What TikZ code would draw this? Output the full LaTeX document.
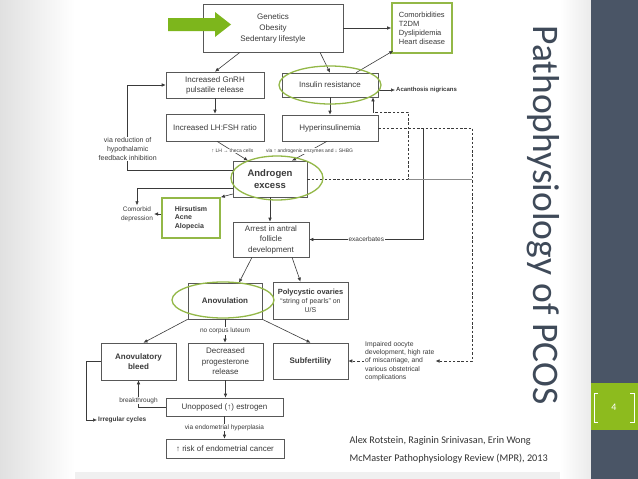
\documentclass[tikz,border=0pt]{standalone}
\usepackage{fontspec}
\setmainfont{Liberation Sans}
\newfontfamily\slidefont{Carlito}
\usetikzlibrary{arrows.meta,calc}
\definecolor{ink}{HTML}{3A3A3A}
\definecolor{lime}{HTML}{7DB61C}
\definecolor{olive}{HTML}{93B847}
\definecolor{slate}{HTML}{4A5566}
\definecolor{band}{HTML}{8DBB1E}
\definecolor{titlegray}{HTML}{3F4A59}
\tikzset{box/.style={draw=ink!85,fill=white,line width=.6pt,align=center,inner sep=0pt,text=ink,font=\fontsize{8}{10.5}\selectfont}, hot/.style={box,font=\fontsize{8}{10}\selectfont\bfseries}, gbox/.style={box,draw=olive,line width=1.6pt,align=left}, flow/.style={-{Latex[length=4pt,width=3.6pt]},draw=ink,line width=.6pt}, dflow/.style={flow,dash pattern=on 2.5pt off 1.8pt}, lbl/.style={fill=white,inner sep=.6pt,text=ink,align=center,font=\fontsize{6.5}{8}\selectfont}, tiny/.style={lbl,font=\fontsize{5}{6}\selectfont}, ring/.style={draw=olive,line width=1.3pt}}

\begin{document}
\begin{tikzpicture}[x=1pt,y=-1pt]
\useasboundingbox (0,0) rectangle (638,479);
\fill[white] (0,0) rectangle (638,479);
\shade[left color=black!12,right color=white] (0,0) rectangle (75,479);
\shade[left color=white,right color=black!8] (560,0) rectangle (591,479);
\fill[black!6] (75,472) rectangle (560,479);
\fill[slate] (591,0) rectangle (638,479);
\fill[band] (591,383) rectangle (638,430);
\draw[white,line width=.7pt] (598,393) -- (594,393) -- (594,422) -- (598,422);
\draw[white,line width=.7pt] (630,393) -- (634,393) -- (634,422) -- (630,422);
\node[font=\slidefont\fontsize{10}{12}\selectfont,text=white] (pg) at (614,407) {4};
\node[font=\slidefont\fontsize{37.5}{40}\selectfont,text=titlegray,rotate=-90] (title) at (543,215) {Pathophysiology of PCOS};
\node[font=\slidefont\fontsize{10.2}{18}\selectfont,text=black!80,align=left,anchor=west] (cite) at (346,450) {Alex Rotstein, Raginin Srinivasan, Erin Wong\\McMaster Pathophysiology Review (MPR), 2013};

\node[box,minimum width=140,minimum height=48,font=\fontsize{8}{11}\selectfont] (gen) at (273,28) {Genetics\\Obesity\\Sedentary lifestyle};
\node[gbox,minimum width=60,minimum height=50,font=\fontsize{7.5}{9}\selectfont] (comorb) at (422,28) {Comorbidities\\T2DM\\Dyslipidemia\\Heart disease};
\node[box,minimum width=98,minimum height=26,font=\fontsize{8}{10}\selectfont] (gnrh) at (215,85) {Increased GnRH\\pulsatile release};
\node[box,minimum width=96,minimum height=24] (ins) at (330,85) {Insulin resistance};
\node[font=\fontsize{6}{7}\selectfont\bfseries,text=ink,anchor=west,inner sep=1pt] (acan) at (395,90) {Acanthosis nigricans};
\node[box,minimum width=98,minimum height=27] (lh) at (215,127.5) {Increased LH:FSH ratio};
\node[box,minimum width=96,minimum height=26] (hyp) at (330,128) {Hyperinsulinemia};
\node[box,minimum width=74,minimum height=36,font=\fontsize{9.5}{12}\selectfont\bfseries] (andr) at (270,179) {Androgen\\excess};
\node[gbox,minimum width=58,minimum height=40,font=\fontsize{7}{8.5}\selectfont\bfseries] (hirs) at (191,218) {Hirsutism\\Acne\\Alopecia};
\node[font=\fontsize{6.5}{9}\selectfont,text=ink,align=center,inner sep=1pt] (depr) at (137,214) {Comorbid\\depression};
\node[box,minimum width=76,minimum height=35] (arrest) at (271,239.5) {Arrest in antral\\follicle\\development};
\node[hot,minimum width=74,minimum height=36] (anov) at (225,301) {Anovulation};
\node[box,minimum width=75,minimum height=37,font=\fontsize{7}{9}\selectfont] (poly) at (310.5,300.5) {{\bfseries\fontsize{7.5}{9}\selectfont Polycystic ovaries}\\“string of pearls” on\\U/S};
\node[hot,minimum width=75,minimum height=37] (bleed) at (138.5,361.5) {Anovulatory\\bleed};
\node[box,minimum width=75,minimum height=37] (prog) at (225.5,361.5) {Decreased\\progesterone\\release};
\node[hot,minimum width=75,minimum height=36] (subf) at (310.5,361) {Subfertility};
\node[font=\fontsize{6.8}{8.3}\selectfont,text=ink,align=left,anchor=west,inner sep=1pt] (imp) at (364,361) {Impaired oocyte\\development, high rate\\of miscarriage, and\\various obstetrical\\complications};
\node[box,minimum width=117,minimum height=18] (unop) at (224.5,407) {Unopposed (↑) estrogen};
\node[font=\fontsize{6.5}{8}\selectfont\bfseries,text=ink,anchor=west,inner sep=1pt] (irreg) at (97,420) {Irregular cycles};
\node[box,minimum width=118,minimum height=19] (risk) at (225,448.5) {↑ risk of endometrial cancer};

\draw[flow] ([xshift=-33pt]gen.south) -- (gnrh.north);
\draw[flow] ([xshift=47pt]gen.south) -- (ins.north);
\draw[flow] (gen.east) -- (comorb.west);
\draw[flow] ([xshift=26pt]ins.north) -- ([xshift=2pt,yshift=3pt]comorb.south west);
\draw[flow] (ins.east |- acan.west) -- (acan.west);
\draw[flow] (gnrh.south) -- (lh.north);
\draw[flow] (ins.south) -- (hyp.north);
\draw[flow] ([xshift=2pt]lh.south) -- node[tiny]{↑ LH → theca cells} ([xshift=-22pt]andr.north);
\draw[flow] ([xshift=-3pt]hyp.south) -- node[tiny]{via ↑ androgenic enzymes and ↓ SHBG} ([xshift=22pt]andr.north);
\draw[flow] ([yshift=9pt]andr.west) -- ++(-105,0) |- node[pos=.125,lbl,font=\fontsize{7}{9}\selectfont]{via reduction of\\hypothalamic\\feedback inhibition} (gnrh.west);
\draw[flow] ([yshift=-9pt]andr.west) -| (depr.north);
\draw[flow] ([yshift=-15pt]andr.west) -- (hirs.north east);
\draw[flow] (hirs.west |- depr.east) -- (depr.east);
\draw[flow] (andr.south) -- (andr.south |- arrest.north);
\coordinate (drop) at ([xshift=94pt]hyp.east);
\draw[dflow] (hyp.east) -- (drop) |- (imp.east);
\draw[flow] ([xshift=45pt]hyp.east) |- node[pos=.75,lbl]{exacerbates} (arrest.east);
\coordinate (turn) at (373,112);
\draw[ink,line width=.6pt,dash pattern=on 2.5pt off 1.8pt] (andr.east) -| ([xshift=35pt]turn) -- (turn);
\draw[flow] (turn) -- (turn |- ins.south);
\draw[black!45,line width=.4pt] ([xshift=101pt]andr.east) -- (drop |- andr.east);
\draw[flow] ([xshift=-19pt]arrest.south) -- ([xshift=14pt]anov.north);
\draw[flow] ([xshift=21pt]arrest.south) -- ([xshift=-10pt]poly.north);
\draw[flow] (anov.south west) -- ([xshift=5pt]bleed.north);
\draw[flow] (anov.south) -- node[lbl]{no corpus luteum} (anov.south |- prog.north);
\draw[flow] (anov.south east) -- (subf.north);
\draw[dflow] (imp.west) -- (subf.east);
\draw[flow] (prog.south) -- (prog.south |- unop.north);
\draw[flow] (unop.west) -| node[pos=.62,lbl]{breakthrough} (bleed.south);
\draw[flow] (bleed.west) -- ++(-14,0) |- (irreg.west);
\draw[flow] (unop.south) -- node[lbl]{via endometrial hyperplasia} (unop.south |- risk.north);

\draw[ring] (330,85) ellipse [x radius=51,y radius=19];
\draw[ring] (277,178) ellipse [x radius=46,y radius=22];
\draw[ring] (223,300) ellipse [x radius=51,y radius=18];
\fill[lime] (168,18) -- (215,18) -- (215,12) -- (231,24.5) -- (215,37) -- (215,31) -- (168,31) -- cycle;
\end{tikzpicture}
\end{document}
